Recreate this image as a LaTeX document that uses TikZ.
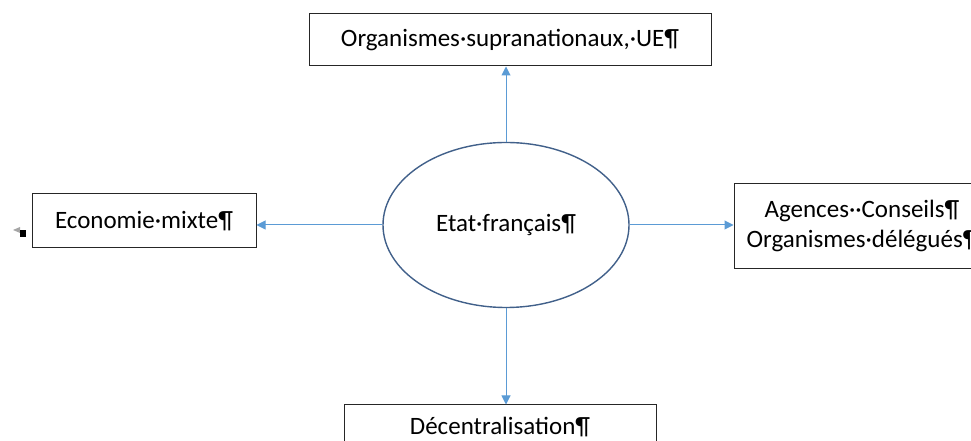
\documentclass[tikz,border=0pt]{standalone}
\usepackage{fontspec}
\setmainfont{Carlito}
\usetikzlibrary{shapes.geometric, arrows.meta}
\definecolor{officeblue}{HTML}{5B9BD5}
\definecolor{ovalline}{HTML}{41608A}
\tikzstyle{etat} = [ellipse, minimum width=246pt, minimum height=165pt, draw=ovalline, line width=1.4pt, inner sep=0pt]
\tikzstyle{box} = [rectangle, draw=black!85, line width=1pt, inner sep=0pt, text centered]
\tikzstyle{arrow} = [draw=officeblue, line width=1pt, -{Triangle[length=9pt,width=9pt]}]

\begin{document}
\begin{tikzpicture}[x=1pt, y=1pt, font=\fontsize{25}{30}\selectfont]
\useasboundingbox (0,0) rectangle (971,441);

\node (centre) [etat] at (506,216) {Etat·français¶};
\node (ue) [box, minimum width=402pt, minimum height=52pt] at (510,401) {Organismes·supranationaux,·UE¶};
\node (mixte) [box, minimum width=224pt, minimum height=54pt] at (144,220) {Economie·mixte¶};
\node (agences) [box, minimum width=256pt, minimum height=85pt, align=center] at (862,215) {Agences··Conseils¶\\Organismes·délégués¶};
\node (decentr) [box, minimum width=312pt, text height=24pt, text depth=16pt, inner ysep=6pt] at (500,10) {Décentralisation¶};

\draw [arrow] (centre.north) -- (centre.north |- ue.south);
\draw [arrow] (centre.west) -- (centre.west -| mixte.east);
\draw [arrow] (centre.east) -- (centre.east -| agences.west);
\draw [arrow] (centre.south) -- (centre.south |- decentr.north);

% ancre
\fill [black!35] (13,211) -- (20,214) -- (20,208) -- cycle;
\fill [black] (20,204) rectangle (26,211);

\end{tikzpicture}
\end{document}
